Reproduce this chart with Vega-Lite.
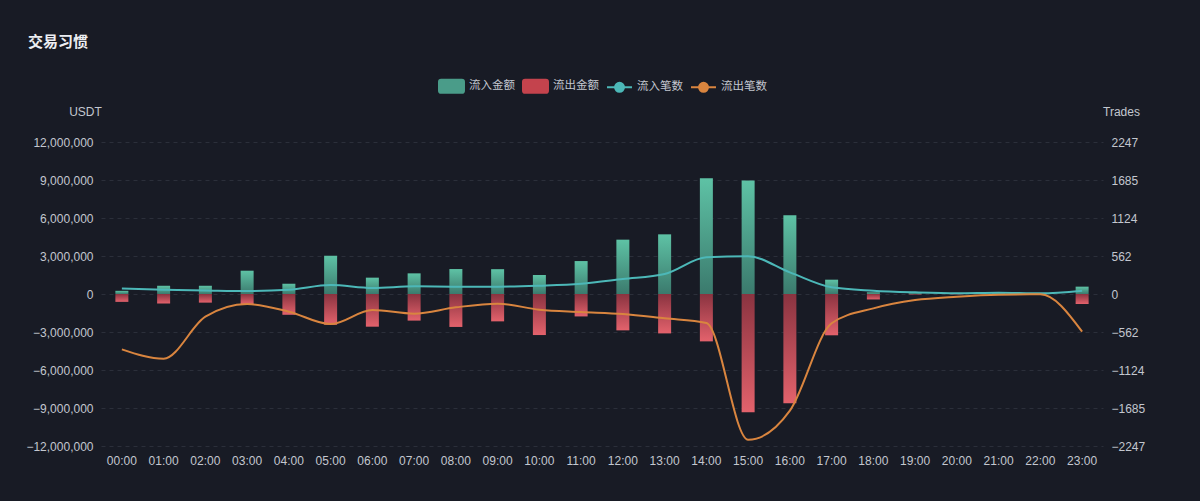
{
  "$schema": "https://vega.github.io/schema/vega-lite/v6.json",
  "width": 1002,
  "height": 304,
  "autosize": {"type": "none"},
  "padding": {"left": 101, "top": 142, "right": 97, "bottom": 55},
  "background": "#181b25",
  "title": {"text": "交易习惯", "anchor": "start", "frame": "group", "dx": -73, "fontSize": 15, "fontWeight": "bold", "color": "#eceef2", "font": "Noto Sans CJK SC", "offset": 28},
  "datasets": {
    "amounts": [
      {"hour": "00:00", "series": "流入金额", "value": 250000}, {"hour": "00:00", "series": "流出金额", "value": -620000},
      {"hour": "01:00", "series": "流入金额", "value": 650000}, {"hour": "01:00", "series": "流出金额", "value": -750000},
      {"hour": "02:00", "series": "流入金额", "value": 650000}, {"hour": "02:00", "series": "流出金额", "value": -680000},
      {"hour": "03:00", "series": "流入金额", "value": 1840000}, {"hour": "03:00", "series": "流出金额", "value": -800000},
      {"hour": "04:00", "series": "流入金额", "value": 810000}, {"hour": "04:00", "series": "流出金额", "value": -1640000},
      {"hour": "05:00", "series": "流入金额", "value": 3020000}, {"hour": "05:00", "series": "流出金额", "value": -2430000},
      {"hour": "06:00", "series": "流入金额", "value": 1290000}, {"hour": "06:00", "series": "流出金额", "value": -2580000},
      {"hour": "07:00", "series": "流入金额", "value": 1630000}, {"hour": "07:00", "series": "流出金额", "value": -2100000},
      {"hour": "08:00", "series": "流入金额", "value": 1970000}, {"hour": "08:00", "series": "流出金额", "value": -2600000},
      {"hour": "09:00", "series": "流入金额", "value": 1960000}, {"hour": "09:00", "series": "流出金额", "value": -2160000},
      {"hour": "10:00", "series": "流入金额", "value": 1500000}, {"hour": "10:00", "series": "流出金额", "value": -3240000},
      {"hour": "11:00", "series": "流入金额", "value": 2600000}, {"hour": "11:00", "series": "流出金额", "value": -1770000},
      {"hour": "12:00", "series": "流入金额", "value": 4290000}, {"hour": "12:00", "series": "流出金额", "value": -2870000},
      {"hour": "13:00", "series": "流入金额", "value": 4710000}, {"hour": "13:00", "series": "流出金额", "value": -3110000},
      {"hour": "14:00", "series": "流入金额", "value": 9130000}, {"hour": "14:00", "series": "流出金额", "value": -3740000},
      {"hour": "15:00", "series": "流入金额", "value": 8970000}, {"hour": "15:00", "series": "流出金额", "value": -9340000},
      {"hour": "16:00", "series": "流入金额", "value": 6210000}, {"hour": "16:00", "series": "流出金额", "value": -8630000},
      {"hour": "17:00", "series": "流入金额", "value": 1130000}, {"hour": "17:00", "series": "流出金额", "value": -3260000},
      {"hour": "18:00", "series": "流入金额", "value": 130000}, {"hour": "18:00", "series": "流出金额", "value": -430000},
      {"hour": "19:00", "series": "流入金额", "value": 50000}, {"hour": "19:00", "series": "流出金额", "value": -30000},
      {"hour": "20:00", "series": "流入金额", "value": 20000}, {"hour": "20:00", "series": "流出金额", "value": -20000},
      {"hour": "21:00", "series": "流入金额", "value": 120000}, {"hour": "21:00", "series": "流出金额", "value": -60000},
      {"hour": "22:00", "series": "流入金额", "value": 20000}, {"hour": "22:00", "series": "流出金额", "value": -20000},
      {"hour": "23:00", "series": "流入金额", "value": 580000}, {"hour": "23:00", "series": "流出金额", "value": -790000}
    ],
    "counts": [
      {"hour": "00:00", "series": "流入笔数", "value": 83}, {"hour": "00:00", "series": "流出笔数", "value": -818},
      {"hour": "01:00", "series": "流入笔数", "value": 64}, {"hour": "01:00", "series": "流出笔数", "value": -956},
      {"hour": "02:00", "series": "流入笔数", "value": 53}, {"hour": "02:00", "series": "流出笔数", "value": -335},
      {"hour": "03:00", "series": "流入笔数", "value": 44}, {"hour": "03:00", "series": "流出笔数", "value": -148},
      {"hour": "04:00", "series": "流入笔数", "value": 63}, {"hour": "04:00", "series": "流出笔数", "value": -261},
      {"hour": "05:00", "series": "流入笔数", "value": 133}, {"hour": "05:00", "series": "流出笔数", "value": -445},
      {"hour": "06:00", "series": "流入笔数", "value": 89}, {"hour": "06:00", "series": "流出笔数", "value": -237},
      {"hour": "07:00", "series": "流入笔数", "value": 113}, {"hour": "07:00", "series": "流出笔数", "value": -291},
      {"hour": "08:00", "series": "流入笔数", "value": 108}, {"hour": "08:00", "series": "流出笔数", "value": -197},
      {"hour": "09:00", "series": "流入笔数", "value": 108}, {"hour": "09:00", "series": "流出笔数", "value": -143},
      {"hour": "10:00", "series": "流入笔数", "value": 123}, {"hour": "10:00", "series": "流出笔数", "value": -232},
      {"hour": "11:00", "series": "流入笔数", "value": 152}, {"hour": "11:00", "series": "流出笔数", "value": -266},
      {"hour": "12:00", "series": "流入笔数", "value": 222}, {"hour": "12:00", "series": "流出笔数", "value": -296},
      {"hour": "13:00", "series": "流入笔数", "value": 296}, {"hour": "13:00", "series": "流出笔数", "value": -360},
      {"hour": "14:00", "series": "流入笔数", "value": 542}, {"hour": "14:00", "series": "流出笔数", "value": -429},
      {"hour": "15:00", "series": "流入笔数", "value": 557}, {"hour": "15:00", "series": "流出笔数", "value": -2154},
      {"hour": "16:00", "series": "流入笔数", "value": 320}, {"hour": "16:00", "series": "流出笔数", "value": -1725},
      {"hour": "17:00", "series": "流入笔数", "value": 99}, {"hour": "17:00", "series": "流出笔数", "value": -433},
      {"hour": "18:00", "series": "流入笔数", "value": 49}, {"hour": "18:00", "series": "流出笔数", "value": -212},
      {"hour": "19:00", "series": "流入笔数", "value": 25}, {"hour": "19:00", "series": "流出笔数", "value": -89},
      {"hour": "20:00", "series": "流入笔数", "value": 12}, {"hour": "20:00", "series": "流出笔数", "value": -39},
      {"hour": "21:00", "series": "流入笔数", "value": 20}, {"hour": "21:00", "series": "流出笔数", "value": -10},
      {"hour": "22:00", "series": "流入笔数", "value": 10}, {"hour": "22:00", "series": "流出笔数", "value": -5},
      {"hour": "23:00", "series": "流入笔数", "value": 49}, {"hour": "23:00", "series": "流出笔数", "value": -557}
    ]
  },
  "encoding": {
    "x": {
      "field": "hour", "type": "ordinal", "title": null,
      "scale": {"paddingInner": 0, "paddingOuter": 0},
      "axis": {"labelAngle": 0, "domain": false, "ticks": false, "labelPadding": 9, "labelFontSize": 12, "labelColor": "#c3c7cf", "labelFont": "Liberation Sans"}
    }
  },
  "layer": [
    {
      "data": {"name": "amounts"},
      "encoding": {
        "y": {
          "field": "value", "type": "quantitative", "stack": null, "title": "USDT",
          "scale": {"domain": [-12000000, 12000000], "nice": false},
          "axis": {
            "orient": "left", "values": [-12000000, -9000000, -6000000, -3000000, 0, 3000000, 6000000, 9000000, 12000000],
            "format": ",.0f", "domain": false, "ticks": false, "labelPadding": 8, "labelFontSize": 12, "labelColor": "#c3c7cf", "labelFont": "Liberation Sans",
            "grid": true, "gridColor": "#2b2f3a", "gridDash": [4, 4], "gridWidth": 1,
            "titleAngle": 0, "titleAlign": "center", "titleBaseline": "alphabetic", "titleX": -16, "titleY": -27,
            "titleFontSize": 12, "titleFontWeight": "normal", "titleColor": "#c3c7cf", "titleFont": "Liberation Sans"
          }
        }
      },
      "layer": [
        {
          "transform": [{"filter": "datum.series === '流入金额'"}],
          "mark": {"type": "bar", "size": 13, "color": {"gradient": "linear", "x1": 0, "y1": 0, "x2": 0, "y2": 1, "stops": [{"offset": 0, "color": "#5ec2a5"}, {"offset": 1, "color": "#3b7a6d"}]}}
        },
        {
          "transform": [{"filter": "datum.series === '流出金额'"}],
          "mark": {"type": "bar", "size": 13, "color": {"gradient": "linear", "x1": 0, "y1": 0, "x2": 0, "y2": 1, "stops": [{"offset": 0, "color": "#8a3340"}, {"offset": 1, "color": "#e3626c"}]}}
        }
      ]
    },
    {
      "data": {"name": "counts"},
      "mark": {"type": "line", "interpolate": "monotone", "strokeWidth": 2},
      "encoding": {
        "y": {
          "field": "value", "type": "quantitative", "title": "Trades",
          "scale": {"domain": [-2247, 2247], "nice": false},
          "axis": {
            "orient": "right", "values": [-2247, -1685.25, -1123.5, -561.75, 0, 561.75, 1123.5, 1685.25, 2247],
            "format": ".0f", "domain": false, "ticks": false, "grid": false, "labelPadding": 8, "labelFontSize": 12, "labelColor": "#c3c7cf", "labelFont": "Liberation Sans",
            "titleAngle": 0, "titleAlign": "center", "titleBaseline": "alphabetic", "titleX": 18, "titleY": -27,
            "titleFontSize": 12, "titleFontWeight": "normal", "titleColor": "#c3c7cf", "titleFont": "Liberation Sans"
          }
        },
        "color": {
          "field": "series", "type": "nominal", "title": null,
          "scale": {
            "domain": ["流入金额", "流出金额", "流入笔数", "流出笔数"],
            "range": ["#4a9c89", "#c4434d", "#4cb8b8", "#d9853f"]
          },
          "legend": {
            "orient": "top", "direction": "horizontal", "offset": 45,
            "labelFontSize": 11.5, "labelColor": "#c3c7cf", "labelFont": "Noto Sans CJK SC", "labelOffset": 15,
            "columnPadding": 4, "symbolSize": 196,
            "encode": {
              "symbols": {
                "update": {
                  "shape": {"signal": "(datum.value === '流入金额' || datum.value === '流出金额') ? 'M-0.7,-0.93H2.27A0.3,0.3 0 0 1 2.57,-0.63V0.63A0.3,0.3 0 0 1 2.27,0.93H-0.7A0.3,0.3 0 0 1 -1,0.63V-0.63A0.3,0.3 0 0 1 -0.7,-0.93Z' : 'M-1,0H2.57M1.43,0A0.64,0.64 0 1 1 0.15,0A0.64,0.64 0 1 1 1.43,0Z'"},
                  "fill": {"signal": "datum.value === '流入金额' ? '#4a9c89' : datum.value === '流出金额' ? '#c4434d' : datum.value === '流入笔数' ? '#4cb8b8' : '#d9853f'"},
                  "stroke": {"signal": "datum.value === '流入笔数' ? '#4cb8b8' : datum.value === '流出笔数' ? '#d9853f' : 'transparent'"},
                  "strokeWidth": {"value": 2},
                  "size": {"value": 196},
                  "opacity": {"value": 1}
                }
              }
            }
          }
        }
      }
    }
  ],
  "resolve": {"scale": {"y": "independent"}, "axis": {"y": "independent"}},
  "config": {
    "view": {"stroke": null},
    "legend": {"layout": {"top": {"anchor": "middle"}}}
  }
}
